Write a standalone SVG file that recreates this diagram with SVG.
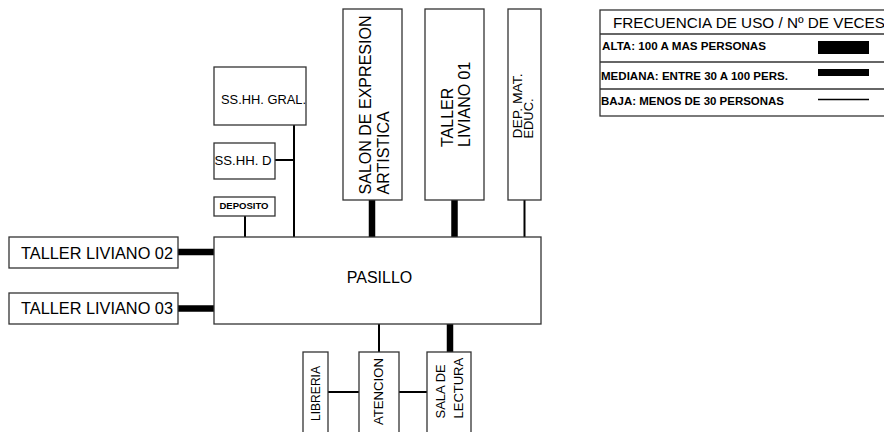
<svg xmlns="http://www.w3.org/2000/svg" width="884" height="432" viewBox="0 0 884 432">
<style>
.box{fill:#fff;stroke:#333;stroke-width:1.3}
.t{font-family:"Liberation Sans",Arial,sans-serif;fill:#000}
.thick{stroke:#000;stroke-width:6.5;fill:none}
.thin{stroke:#000;stroke-width:2;fill:none}
.leg{stroke:#333;stroke-width:1.3}
</style>
<rect width="884" height="432" fill="#fff"/>
<g id="connectors">
<line class="thick" x1="372" y1="200" x2="372" y2="237"/>
<line class="thick" x1="454.5" y1="200" x2="454.5" y2="237"/>
<line class="thick" x1="178" y1="252" x2="214" y2="252"/>
<line class="thick" x1="178" y1="308.5" x2="214" y2="308.5"/>
<line class="thick" x1="450" y1="324" x2="450" y2="352"/>
<line class="thin" x1="524.5" y1="200" x2="524.5" y2="237"/>
<line class="thin" x1="294" y1="125" x2="294" y2="237"/>
<line class="thin" x1="275" y1="160" x2="294" y2="160"/>
<line class="thin" x1="245" y1="216" x2="245" y2="237"/>
<line class="thin" x1="379" y1="324" x2="379" y2="352"/>
<line class="thin" x1="328" y1="392" x2="359" y2="392"/>
<line class="thin" x1="399" y1="392" x2="427" y2="392"/>
</g>
<g id="pasillo">
<rect class="box" x="214" y="237" width="327" height="87"/>
<text class="t" x="379.5" y="283" font-size="16" text-anchor="middle">PASILLO</text>
</g>
<g id="taller02">
<rect class="box" x="9" y="237" width="169" height="31"/>
<text class="t" x="21" y="258.5" font-size="16" textLength="152" lengthAdjust="spacingAndGlyphs">TALLER LIVIANO 02</text>
</g>
<g id="taller03">
<rect class="box" x="9" y="293" width="169" height="31"/>
<text class="t" x="21" y="313.5" font-size="16" textLength="152" lengthAdjust="spacingAndGlyphs">TALLER LIVIANO 03</text>
</g>
<g id="sshh-gral">
<rect class="box" x="214" y="67" width="92" height="58"/>
<text class="t" x="221" y="103.5" font-size="13" textLength="85" lengthAdjust="spacingAndGlyphs">SS.HH. GRAL.</text>
</g>
<g id="sshh-d">
<rect class="box" x="214" y="143" width="61" height="36"/>
<text class="t" x="214.5" y="164.5" font-size="13" textLength="57" lengthAdjust="spacingAndGlyphs">SS.HH. D</text>
</g>
<g id="deposito">
<rect class="box" x="214" y="197" width="61" height="19"/>
<text class="t" x="219.5" y="209" font-size="9" font-weight="bold" textLength="49" lengthAdjust="spacingAndGlyphs">DEPOSITO</text>
</g>
<g id="salon">
<rect class="box" x="343" y="9" width="59" height="191"/>
<text class="t" font-size="16" transform="translate(370.5,194.5) rotate(-90)"><tspan x="0" y="0" textLength="179" lengthAdjust="spacingAndGlyphs">SALON DE EXPRESION</tspan><tspan x="0" y="18">ARTISTICA</tspan></text>
</g>
<g id="taller01">
<rect class="box" x="425" y="9" width="59" height="191"/>
<text class="t" font-size="16" transform="translate(452.5,147) rotate(-90)"><tspan x="0" y="0">TALLER</tspan><tspan x="0" y="17.5">LIVIANO 01</tspan></text>
</g>
<g id="dep-mat">
<rect class="box" x="508" y="9" width="33" height="191"/>
<text class="t" font-size="12" transform="translate(521.5,138.5) rotate(-90)"><tspan x="0" y="0" textLength="65" lengthAdjust="spacingAndGlyphs">DEP. MAT.</tspan><tspan x="0" y="11.8" textLength="40" lengthAdjust="spacingAndGlyphs">EDUC.</tspan></text>
</g>
<g id="libreria">
<rect class="box" x="303" y="352" width="25" height="90"/>
<text class="t" font-size="12" transform="translate(319.5,421) rotate(-90)" textLength="55" lengthAdjust="spacingAndGlyphs">LIBRERIA</text>
</g>
<g id="atencion">
<rect class="box" x="359" y="352" width="40" height="90"/>
<text class="t" font-size="13" transform="translate(382.5,425) rotate(-90)" textLength="67" lengthAdjust="spacingAndGlyphs">ATENCION</text>
</g>
<g id="sala-lectura">
<rect class="box" x="427" y="352" width="44" height="90"/>
<text class="t" font-size="13" transform="translate(445,418.5) rotate(-90)"><tspan x="0" y="0">SALA DE</tspan><tspan x="0" y="17.7">LECTURA</tspan></text>
</g>
<g id="legend">
<rect class="box" x="600" y="10" width="300" height="106"/>
<line class="leg" x1="600" y1="34" x2="884" y2="34"/>
<line class="leg" x1="600" y1="62" x2="884" y2="62"/>
<line class="leg" x1="600" y1="89" x2="884" y2="89"/>
<text class="t" x="613" y="28" font-size="15" textLength="272" lengthAdjust="spacingAndGlyphs">FRECUENCIA DE USO / Nº DE VECES</text>
<text class="t" x="602" y="49.5" font-size="10.5" font-weight="bold" textLength="164" lengthAdjust="spacingAndGlyphs">ALTA: 100 A MAS PERSONAS</text>
<text class="t" x="601" y="79.5" font-size="10.5" font-weight="bold" textLength="187" lengthAdjust="spacingAndGlyphs">MEDIANA: ENTRE 30 A 100 PERS.</text>
<text class="t" x="601" y="104.5" font-size="10.5" font-weight="bold" textLength="183" lengthAdjust="spacingAndGlyphs">BAJA: MENOS DE 30 PERSONAS</text>
<rect x="818" y="41" width="51" height="13" fill="#000"/>
<rect x="818" y="69" width="51" height="7" fill="#000"/>
<line x1="818" y1="99.5" x2="869" y2="99.5" stroke="#000" stroke-width="1.5"/>
</g>
</svg>
